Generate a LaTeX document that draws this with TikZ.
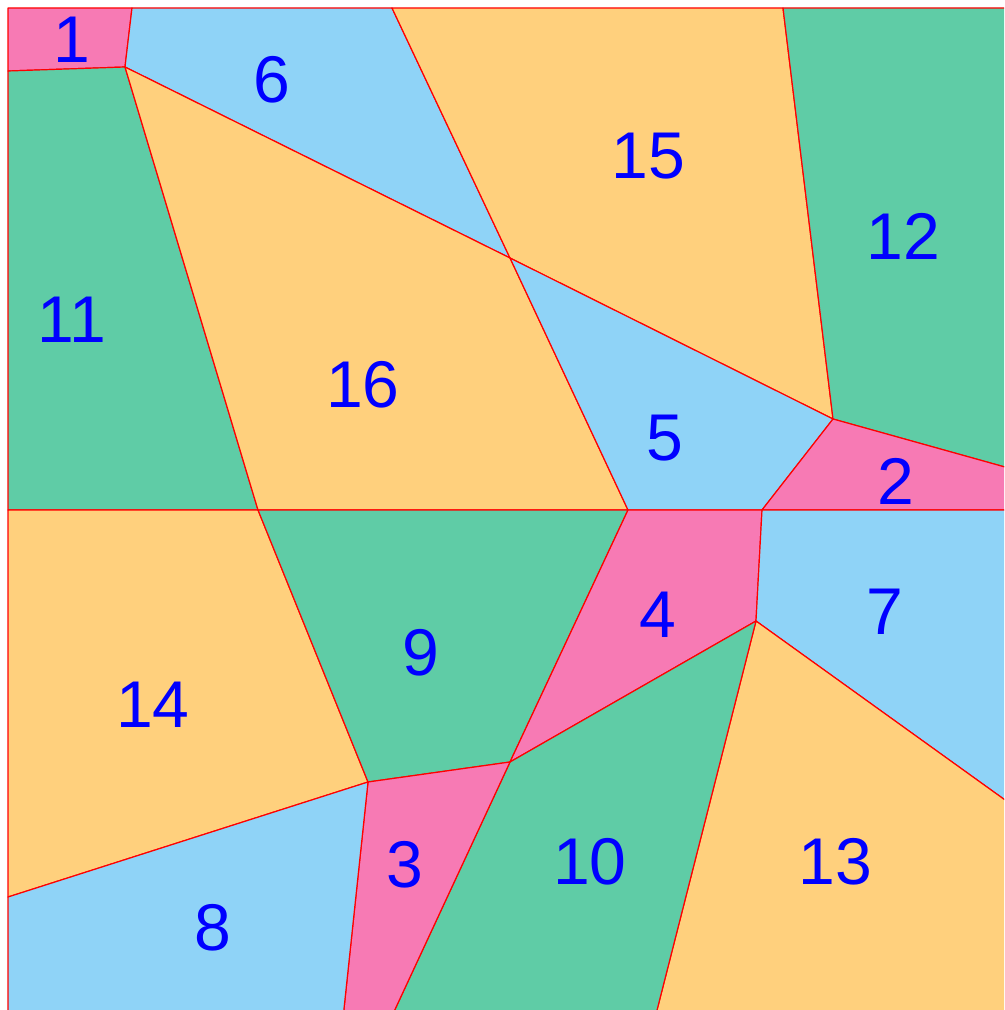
\documentclass[tikz,border=0pt]{standalone}
\usepackage{fontspec}
\setmainfont{Liberation Sans}
\usepackage{xcolor}
\definecolor{mapPink}{HTML}{F77AB4}
\definecolor{mapBlue}{HTML}{8FD3F7}
\definecolor{mapGreen}{HTML}{5FCCA6}
\definecolor{mapOrange}{HTML}{FFD07D}

\begin{document}
\begin{tikzpicture}[
    x=0.025cm, y=-0.025cm,
    region/.style={draw=red, line width=0.85pt, line join=round},
    num/.style={text=blue, font=\fontsize{47}{47}\selectfont, inner sep=0pt}
]
\useasboundingbox (0,0) rectangle (1004,1010);
\clip (0,0) rectangle (1004,1010);

% corners and vertices
\coordinate (tl) at (8,8);
\coordinate (tr) at (1012,8);
\coordinate (bl) at (8,1018);
\coordinate (br) at (1012,1018);
\coordinate (a) at (132,8);
\coordinate (b) at (392,8);
\coordinate (c) at (783,8);
\coordinate (d) at (125,67);
\coordinate (e) at (8,71);
\coordinate (f) at (510,258);
\coordinate (g) at (833,419);
\coordinate (h) at (1012,469);
\coordinate (i) at (1012,510);
\coordinate (j) at (762,510);
\coordinate (k) at (628,510);
\coordinate (l) at (258,510);
\coordinate (m) at (8,510);
\coordinate (n) at (756,621);
\coordinate (o) at (1012,805);
\coordinate (p) at (510,762);
\coordinate (q) at (368,782);
\coordinate (r) at (8,897);
\coordinate (s) at (343,1018);
\coordinate (t) at (391,1018);
\coordinate (u) at (655,1018);

% regions
\filldraw[region, fill=mapPink]   (tl) -- (a) -- (d) -- (e) -- cycle;
\filldraw[region, fill=mapBlue]   (a) -- (b) -- (f) -- (d) -- cycle;
\filldraw[region, fill=mapOrange] (b) -- (c) -- (g) -- (f) -- cycle;
\filldraw[region, fill=mapGreen]  (c) -- (tr) -- (h) -- (g) -- cycle;
\filldraw[region, fill=mapGreen]  (e) -- (d) -- (l) -- (m) -- cycle;
\filldraw[region, fill=mapOrange] (d) -- (f) -- (k) -- (l) -- cycle;
\filldraw[region, fill=mapBlue]   (f) -- (g) -- (j) -- (k) -- cycle;
\filldraw[region, fill=mapPink]   (g) -- (h) -- (i) -- (j) -- cycle;
\filldraw[region, fill=mapOrange] (m) -- (l) -- (q) -- (r) -- cycle;
\filldraw[region, fill=mapGreen]  (l) -- (k) -- (p) -- (q) -- cycle;
\filldraw[region, fill=mapPink]   (k) -- (j) -- (n) -- (p) -- cycle;
\filldraw[region, fill=mapBlue]   (j) -- (i) -- (o) -- (n) -- cycle;
\filldraw[region, fill=mapOrange] (n) -- (o) -- (br) -- (u) -- cycle;
\filldraw[region, fill=mapGreen]  (p) -- (n) -- (u) -- (t) -- cycle;
\filldraw[region, fill=mapPink]   (q) -- (p) -- (t) -- (s) -- cycle;
\filldraw[region, fill=mapBlue]   (r) -- (q) -- (s) -- (bl) -- cycle;

% labels
\node[num] (n1)  at (72,40)   {1};
\node[num] (n6)  at (272,80)  {6};
\node[num] (n15) at (648,156) {15};
\node[num] (n12) at (903,236) {12};
\node[num] (n11) at (72,320)  {11};
\node[num] (n16) at (363,385) {16};
\node[num] (n5)  at (665,438) {5};
\node[num] (n2)  at (896,481) {2};
\node[num] (n4)  at (658,615) {4};
\node[num] (n7)  at (885,612) {7};
\node[num] (n9)  at (421,653) {9};
\node[num] (n14) at (153,705) {14};
\node[num] (n3)  at (405,865) {3};
\node[num] (n10) at (590,862) {10};
\node[num] (n13) at (835,862) {13};
\node[num] (n8)  at (213,928) {8};
\end{tikzpicture}
\end{document}
